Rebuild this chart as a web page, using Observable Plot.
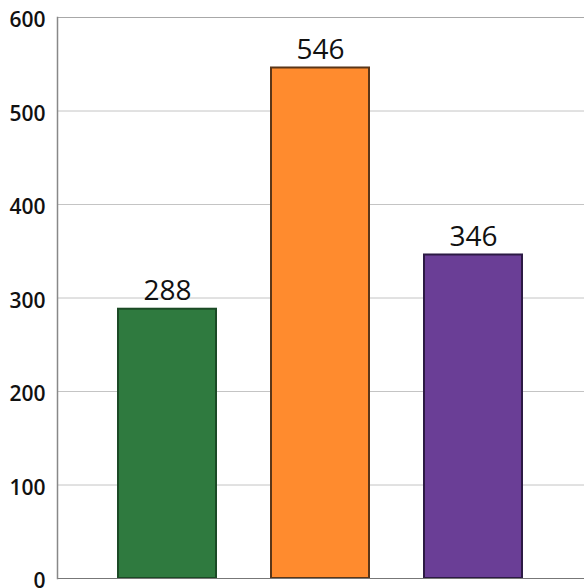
<!DOCTYPE html>
<html>
<head>
<meta charset="utf-8">
<script src="https://cdn.jsdelivr.net/npm/d3@7"></script>
<script src="https://cdn.jsdelivr.net/npm/@observablehq/plot@0.6"></script>
<style>
  html, body { margin: 0; padding: 0; background: #fff; }
</style>
</head>
<body>
<div id="chart"></div>
<script>
// Three groups, one bar each
const categories = ["Group 1", "Group 2", "Group 3"];
const values = [288, 546, 346];
const fills = ["#2f7a3f", "#ff8b2e", "#6a3e96"];
const strokes = ["#1b4a25", "#5a3618", "#2c1a44"];
const yTicks = [0, 100, 200, 300, 400, 500, 600];

const data = categories.map((c, i) => ({
  category: c,
  value: values[i],
  fill: fills[i],
  stroke: strokes[i]
}));

const chart = Plot.plot({
  width: 584,
  height: 588,
  marginLeft: 57,
  marginRight: 0,
  marginTop: 17,
  marginBottom: 10,
  style: { fontFamily: "'Open Sans', sans-serif", background: "#fff", overflow: "visible" },
  x: { domain: categories, paddingInner: 0.358, paddingOuter: 0.4, axis: null },
  y: { domain: [0, 600], label: null },
  marks: [
    Plot.gridY(yTicks, { stroke: "#c4c4c4", strokeOpacity: 1 }),
    Plot.ruleY([600], { stroke: "#a8a8a8" }),
    Plot.barY(data, {
      x: "category",
      y: "value",
      fill: d => d.fill,
      stroke: d => d.stroke,
      strokeWidth: 2
    }),
    Plot.text(data, {
      x: "category",
      y: "value",
      text: d => String(d.value),
      lineAnchor: "bottom",
      dy: -9,
      fontSize: 28,
      fill: "#111"
    }),
    Plot.ruleY([0], { stroke: "#777" }),
    Plot.frame({ anchor: "left", stroke: "#888", strokeWidth: 1.5 }),
    Plot.axisY(yTicks, {
      label: null,
      tickSize: 0,
      tickPadding: 12,
      fontSize: 21,
      fontWeight: 600,
      dy: 3,
      fill: "#111"
    })
  ]
});

document.getElementById("chart").appendChild(chart);
</script>
</body>
</html>
